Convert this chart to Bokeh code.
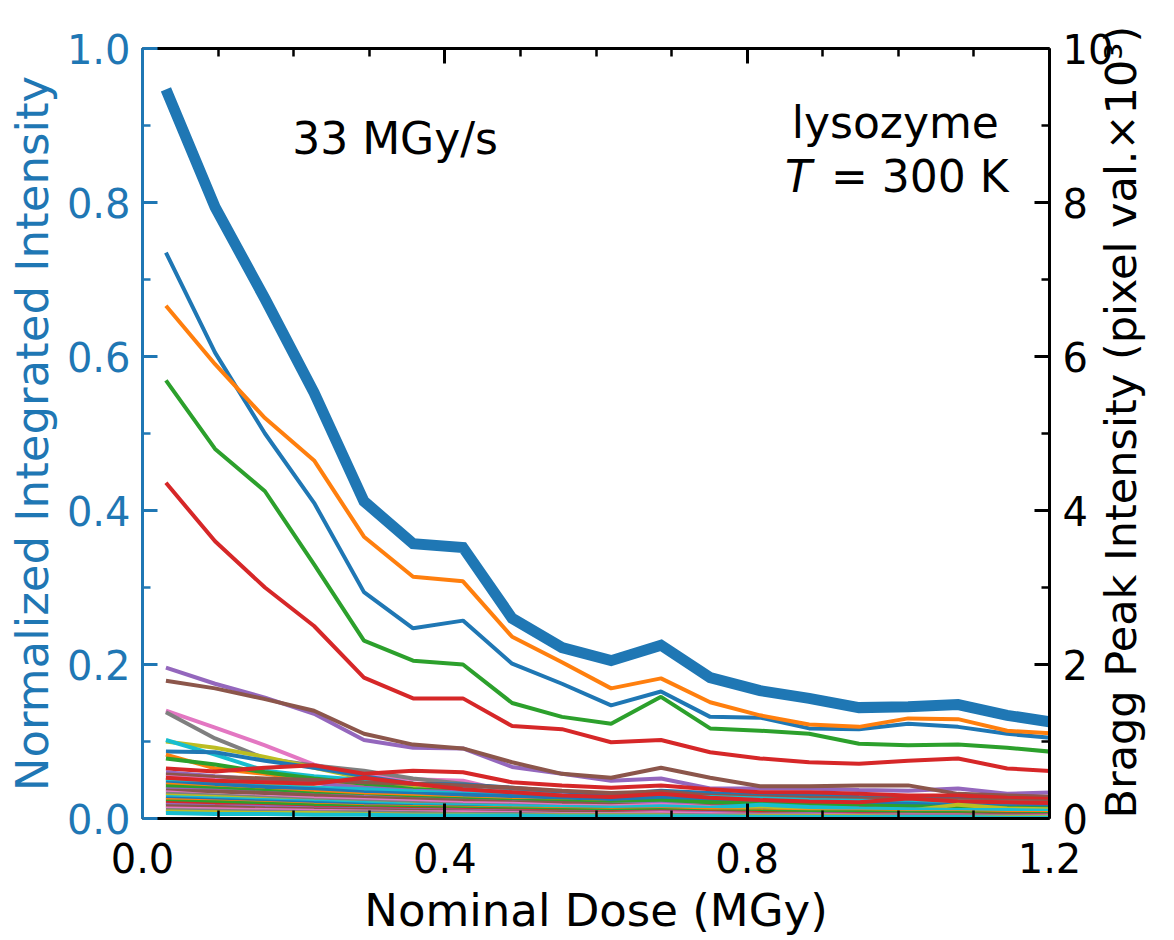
from bokeh.plotting import figure
from bokeh.models import Range1d, LinearAxis, FixedTicker, PrintfTickFormatter, Label
from bokeh.embed import file_html
from bokeh.resources import INLINE

# ---------------- data ----------------
dose = [0.031, 0.096, 0.162, 0.227, 0.293, 0.358, 0.424, 0.489, 0.555, 0.620,
        0.686, 0.751, 0.817, 0.882, 0.948, 1.013, 1.079, 1.144, 1.210]

# normalized integrated intensity (left axis)
integrated = [0.947, 0.794, 0.675, 0.553, 0.412, 0.357, 0.352, 0.260, 0.222, 0.205,
              0.225, 0.183, 0.166, 0.156, 0.144, 0.145, 0.148, 0.134, 0.124]

# Bragg peak intensities (right axis, pixel val. x 10^3), sorted by initial intensity
peaks = [
    [7.35, 6.05, 5.00, 4.10, 2.94, 2.47, 2.57, 2.01, 1.75, 1.47, 1.65, 1.32, 1.31, 1.17, 1.16, 1.23, 1.19, 1.10, 1.04],
    [6.66, 5.90, 5.20, 4.65, 3.66, 3.14, 3.08, 2.36, 2.03, 1.69, 1.82, 1.51, 1.34, 1.22, 1.19, 1.30, 1.29, 1.14, 1.10],
    [5.69, 4.80, 4.25, 3.30, 2.31, 2.05, 2.00, 1.50, 1.32, 1.23, 1.58, 1.17, 1.14, 1.10, 0.97, 0.95, 0.96, 0.92, 0.86],
    [4.36, 3.60, 3.00, 2.50, 1.83, 1.56, 1.56, 1.20, 1.16, 0.99, 1.02, 0.86, 0.78, 0.73, 0.71, 0.75, 0.78, 0.65, 0.61],
    [1.96, 1.75, 1.57, 1.36, 1.02, 0.92, 0.91, 0.67, 0.58, 0.49, 0.52, 0.39, 0.39, 0.39, 0.37, 0.36, 0.39, 0.32, 0.34],
    [1.79, 1.69, 1.55, 1.40, 1.10, 0.96, 0.91, 0.73, 0.58, 0.53, 0.66, 0.53, 0.42, 0.42, 0.43, 0.43, 0.32, 0.30, 0.28],
    [1.40, 1.18, 0.95, 0.70, 0.56, 0.51, 0.49, 0.34, 0.30, 0.28, 0.30, 0.27, 0.25, 0.24, 0.23, 0.22, 0.21, 0.20, 0.19],
    [1.38, 1.04, 0.78, 0.69, 0.62, 0.52, 0.45, 0.38, 0.32, 0.28, 0.30, 0.26, 0.24, 0.23, 0.22, 0.22, 0.21, 0.20, 0.19],
    [1.00, 0.92, 0.80, 0.66, 0.52, 0.40, 0.35, 0.30, 0.25, 0.22, 0.24, 0.18, 0.16, 0.20, 0.14, 0.12, 0.10, 0.13, 0.11],
    [1.02, 0.83, 0.62, 0.55, 0.50, 0.45, 0.40, 0.32, 0.30, 0.28, 0.30, 0.26, 0.25, 0.27, 0.24, 0.22, 0.20, 0.21, 0.20],
    [0.87, 0.86, 0.75, 0.66, 0.55, 0.45, 0.44, 0.40, 0.35, 0.31, 0.36, 0.33, 0.30, 0.31, 0.28, 0.27, 0.26, 0.25, 0.24],
    [0.83, 0.65, 0.58, 0.50, 0.42, 0.36, 0.30, 0.28, 0.25, 0.22, 0.24, 0.20, 0.18, 0.17, 0.16, 0.15, 0.14, 0.13, 0.13],
    [0.78, 0.70, 0.60, 0.52, 0.45, 0.38, 0.35, 0.30, 0.27, 0.25, 0.28, 0.22, 0.20, 0.19, 0.18, 0.16, 0.15, 0.15, 0.14],
    [0.65, 0.61, 0.66, 0.69, 0.58, 0.62, 0.60, 0.47, 0.43, 0.40, 0.43, 0.38, 0.34, 0.34, 0.32, 0.30, 0.30, 0.27, 0.25],
    [0.60, 0.55, 0.50, 0.46, 0.40, 0.36, 0.34, 0.30, 0.28, 0.26, 0.29, 0.24, 0.22, 0.23, 0.21, 0.20, 0.19, 0.18, 0.18],
    [0.57, 0.54, 0.52, 0.50, 0.47, 0.45, 0.43, 0.40, 0.36, 0.33, 0.35, 0.30, 0.28, 0.27, 0.26, 0.25, 0.24, 0.23, 0.22],
    [0.54, 0.50, 0.45, 0.40, 0.36, 0.34, 0.30, 0.28, 0.30, 0.26, 0.25, 0.24, 0.22, 0.20, 0.19, 0.18, 0.17, 0.16, 0.15],
    [0.52, 0.46, 0.40, 0.35, 0.31, 0.28, 0.25, 0.23, 0.21, 0.20, 0.22, 0.19, 0.18, 0.20, 0.20, 0.21, 0.22, 0.21, 0.20],
    [0.50, 0.47, 0.44, 0.40, 0.35, 0.30, 0.27, 0.24, 0.20, 0.16, 0.14, 0.13, 0.15, 0.12, 0.11, 0.12, 0.10, 0.09, 0.09],
    [0.48, 0.45, 0.42, 0.40, 0.38, 0.35, 0.32, 0.30, 0.28, 0.27, 0.26, 0.28, 0.26, 0.24, 0.23, 0.22, 0.21, 0.20, 0.20],
    [0.46, 0.44, 0.41, 0.38, 0.34, 0.32, 0.31, 0.29, 0.27, 0.25, 0.27, 0.24, 0.22, 0.21, 0.20, 0.19, 0.17, 0.16, 0.16],
    [0.44, 0.40, 0.36, 0.34, 0.31, 0.29, 0.26, 0.24, 0.22, 0.20, 0.21, 0.19, 0.18, 0.16, 0.15, 0.14, 0.14, 0.13, 0.12],
    [0.42, 0.39, 0.36, 0.32, 0.29, 0.27, 0.25, 0.23, 0.22, 0.20, 0.23, 0.21, 0.19, 0.18, 0.17, 0.16, 0.15, 0.14, 0.13],
    [0.53, 0.49, 0.47, 0.45, 0.53, 0.45, 0.38, 0.34, 0.30, 0.28, 0.32, 0.27, 0.24, 0.22, 0.21, 0.26, 0.22, 0.21, 0.20],
    [0.38, 0.36, 0.33, 0.30, 0.28, 0.25, 0.23, 0.21, 0.19, 0.18, 0.19, 0.16, 0.15, 0.14, 0.13, 0.08, 0.08, 0.08, 0.07],
    [0.36, 0.35, 0.33, 0.30, 0.27, 0.25, 0.23, 0.21, 0.20, 0.18, 0.17, 0.16, 0.15, 0.14, 0.13, 0.12, 0.11, 0.11, 0.10],
    [0.34, 0.30, 0.28, 0.26, 0.24, 0.22, 0.20, 0.19, 0.17, 0.16, 0.18, 0.15, 0.13, 0.14, 0.12, 0.11, 0.10, 0.10, 0.09],
    [0.32, 0.30, 0.27, 0.24, 0.22, 0.20, 0.18, 0.17, 0.15, 0.14, 0.13, 0.12, 0.12, 0.11, 0.10, 0.09, 0.09, 0.08, 0.08],
    [0.30, 0.28, 0.25, 0.22, 0.20, 0.18, 0.16, 0.14, 0.13, 0.12, 0.11, 0.13, 0.16, 0.12, 0.11, 0.10, 0.18, 0.13, 0.12],
    [0.28, 0.26, 0.24, 0.22, 0.20, 0.18, 0.17, 0.16, 0.15, 0.14, 0.16, 0.14, 0.18, 0.15, 0.13, 0.12, 0.11, 0.11, 0.10],
    [0.26, 0.24, 0.22, 0.20, 0.18, 0.16, 0.15, 0.13, 0.12, 0.11, 0.12, 0.10, 0.09, 0.08, 0.08, 0.07, 0.06, 0.06, 0.06],
    [0.24, 0.22, 0.20, 0.18, 0.16, 0.15, 0.14, 0.13, 0.12, 0.11, 0.12, 0.11, 0.10, 0.09, 0.09, 0.08, 0.08, 0.07, 0.07],
    [0.22, 0.21, 0.19, 0.17, 0.15, 0.14, 0.13, 0.12, 0.11, 0.10, 0.11, 0.09, 0.09, 0.08, 0.08, 0.07, 0.07, 0.06, 0.06],
    [0.20, 0.18, 0.16, 0.14, 0.13, 0.12, 0.11, 0.10, 0.09, 0.08, 0.09, 0.08, 0.07, 0.06, 0.06, 0.05, 0.05, 0.05, 0.04],
    [0.18, 0.16, 0.15, 0.13, 0.12, 0.11, 0.10, 0.09, 0.08, 0.07, 0.08, 0.07, 0.06, 0.06, 0.05, 0.05, 0.04, 0.04, 0.04],
    [0.16, 0.15, 0.13, 0.12, 0.11, 0.10, 0.09, 0.08, 0.08, 0.07, 0.07, 0.06, 0.06, 0.05, 0.05, 0.04, 0.04, 0.04, 0.03],
    [0.13, 0.12, 0.11, 0.10, 0.09, 0.08, 0.08, 0.07, 0.06, 0.06, 0.07, 0.06, 0.05, 0.05, 0.04, 0.04, 0.04, 0.03, 0.03],
    [0.11, 0.10, 0.09, 0.08, 0.08, 0.07, 0.06, 0.06, 0.05, 0.05, 0.05, 0.04, 0.04, 0.04, 0.03, 0.03, 0.03, 0.03, 0.02],
    [0.09, 0.08, 0.07, 0.07, 0.06, 0.05, 0.05, 0.04, 0.04, 0.04, 0.04, 0.03, 0.03, 0.03, 0.03, 0.02, 0.02, 0.02, 0.02],
    [0.07, 0.06, 0.06, 0.05, 0.05, 0.04, 0.04, 0.04, 0.03, 0.03, 0.03, 0.03, 0.02, 0.02, 0.02, 0.02, 0.02, 0.01, 0.01],
]

palette = ["#1f77b4", "#ff7f0e", "#2ca02c", "#d62728", "#9467bd",
           "#8c564b", "#e377c2", "#7f7f7f", "#bcbd22", "#17becf"]

x_major = [0.0, 0.4, 0.8, 1.2]
x_minor = [0.1, 0.2, 0.3, 0.5, 0.6, 0.7, 0.9, 1.0, 1.1]
yl_major = [0.0, 0.2, 0.4, 0.6, 0.8, 1.0]
yl_minor = [0.1, 0.3, 0.5, 0.7, 0.9]
yr_major = [0, 2, 4, 6, 8, 10]
yr_minor = [1, 3, 5, 7, 9]

BLUE = "#1f77b4"
FONT = "DejaVu Sans"

# ---------------- figure ----------------
p = figure(width=1174, height=940, output_backend="svg", toolbar_location=None,
           x_range=Range1d(0, 1.2), y_range=Range1d(0, 1.0),
           x_axis_location=None, y_axis_location=None,
           min_border_left=142, min_border_right=125, min_border_top=48, min_border_bottom=122)
p.extra_y_ranges = {"right": Range1d(0, 10)}
p.outline_line_color = None
p.background_fill_color = "white"
p.border_fill_color = "white"
for g in p.grid:
    g.visible = False


def style(ax, color):
    ax.axis_line_color = color
    ax.axis_line_width = 3
    ax.major_tick_line_color = color
    ax.major_tick_line_width = 3
    ax.minor_tick_line_color = color
    ax.minor_tick_line_width = 2.5
    ax.major_tick_in = 15
    ax.major_tick_out = 0
    ax.minor_tick_in = 8
    ax.minor_tick_out = 0
    ax.major_label_text_color = color
    ax.major_label_text_font = FONT
    ax.major_label_text_font_size = "40px"
    ax.axis_label_text_font = FONT
    ax.axis_label_text_font_style = "normal"
    ax.axis_label_text_font_size = "45px"
    ax.axis_label_text_color = color


bottom = LinearAxis(ticker=FixedTicker(ticks=x_major, minor_ticks=x_minor),
                    formatter=PrintfTickFormatter(format="%.1f"),
                    axis_label="Nominal Dose (MGy)")
style(bottom, "black")
bottom.major_label_standoff = 24
bottom.axis_label_standoff = 8
p.add_layout(bottom, "below")

top = LinearAxis(ticker=FixedTicker(ticks=x_major, minor_ticks=x_minor),
                 formatter=PrintfTickFormatter(format="%.1f"))
style(top, "black")
top.major_label_text_font_size = "0px"
top.major_label_standoff = 0
p.add_layout(top, "above")

left = LinearAxis(ticker=FixedTicker(ticks=yl_major, minor_ticks=yl_minor),
                  formatter=PrintfTickFormatter(format="%.1f"),
                  axis_label="Normalized Integrated Intensity")
style(left, BLUE)
left.major_label_standoff = 12
left.axis_label_standoff = 5
p.add_layout(left, "left")

right = LinearAxis(y_range_name="right",
                   ticker=FixedTicker(ticks=yr_major, minor_ticks=yr_minor),
                   formatter=PrintfTickFormatter(format="%d"),
                   axis_label="Bragg Peak Intensity (pixel val.\u00d710\u00b3)")
style(right, "black")
right.major_label_standoff = 13
right.axis_label_standoff = 5
right.axis_label_text_font_size = "43px"
props = LinearAxis.properties()
if "axis_label_orientation" in props:
    right.axis_label_orientation = 1.5708
if "axis_label_align" in props:
    try:
        right.axis_label_align = "start"
    except Exception:
        try:
            right.axis_label_align = "left"
        except Exception:
            pass
p.add_layout(right, "right")

# thick integrated-intensity line (left axis)
p.line(dose, integrated, line_color=BLUE, line_width=11, line_join="miter")

# thin Bragg peak lines (right axis)
for i, series in enumerate(peaks):
    p.line(dose, series, y_range_name="right", line_color=palette[i % 10], line_width=4)

# annotations
p.add_layout(Label(x=0.198, y=0.883, text="33 MGy/s", text_font=FONT, text_font_size="44px",
                   text_align="left", text_baseline="alphabetic", text_color="black"))
p.add_layout(Label(x=0.996, y=0.904, text="lysozyme", text_font=FONT, text_font_size="44px",
                   text_align="center", text_baseline="alphabetic", text_color="black"))
p.add_layout(Label(x=0.850, y=0.834, text="T", text_font=FONT, text_font_size="44px",
                   text_font_style="italic", text_align="left", text_baseline="alphabetic",
                   text_color="black"))
p.add_layout(Label(x=1.146, y=0.834, text="= 300 K", text_font=FONT, text_font_size="44px",
                   text_align="right", text_baseline="alphabetic", text_color="black"))

open("out.html", "w").write(file_html(p, INLINE))
